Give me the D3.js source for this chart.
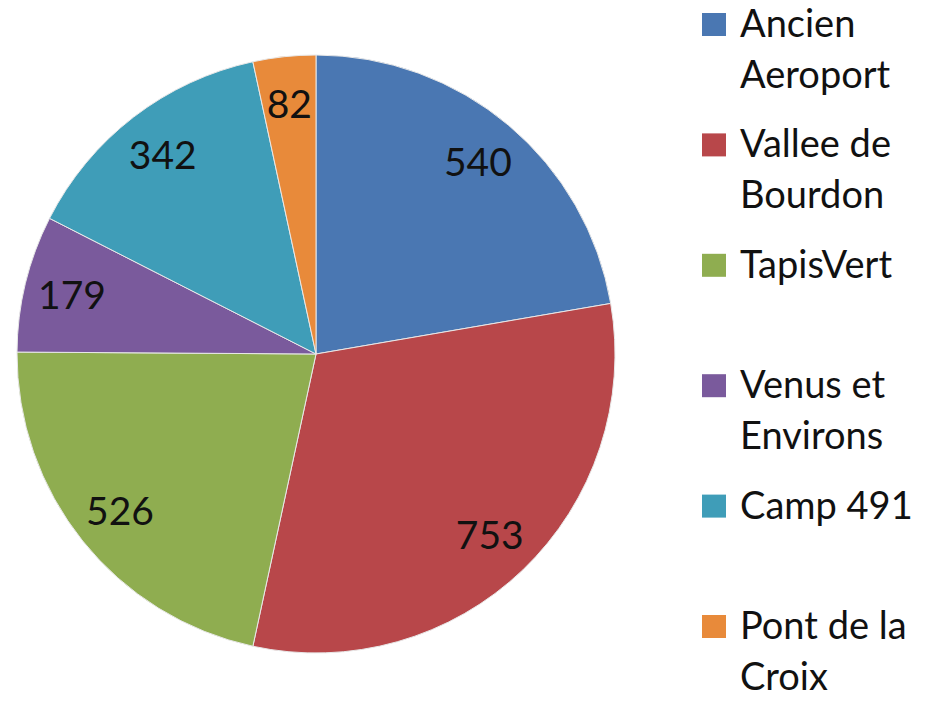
<!DOCTYPE html>
<html>
<head>
<meta charset="utf-8">
<script src="https://cdn.jsdelivr.net/npm/d3@7"></script>
<style>
  body { margin: 0; background: #fff; }
  svg { display: block; }
</style>
</head>
<body>
<svg id="chart" width="930" height="701"></svg>
<script>
// ---------- data ---------- //
var categories = ["Ancien Aeroport", "Vallee de Bourdon", "TapisVert", "Venus et Environs", "Camp 491", "Pont de la Croix"];
var values = [540, 753, 526, 179, 342, 82];
var colors = ["#4a77b2", "#b8474a", "#8fad50", "#7a5a9c", "#3f9db8", "#e88a3a"];

var width = 930, height = 701;
var cx = 316, cy = 354, radius = 299;
var fontFamily = "Lato, 'Open Sans', sans-serif";

var svg = d3.select("#chart");

var color = d3.scaleOrdinal().domain(categories).range(colors);

var pie = d3.pie().sort(null).value(function(d) { return d.value; });
var rows = categories.map(function(c, i) { return { name: c, value: values[i] }; });
var arcs = pie(rows);

var arc = d3.arc().innerRadius(0).outerRadius(radius);
var labelArc = d3.arc().innerRadius(radius * 0.84).outerRadius(radius * 0.84);

// --- slices --- //
var g = svg.append("g").attr("transform", "translate(" + cx + "," + cy + ")");

g.selectAll("path.slice")
    .data(arcs)
    .enter().append("path")
    .attr("class", "slice")
    .attr("d", arc)
    .attr("fill", function(d) { return color(d.data.name); })
    .attr("stroke", "#e8e8e8")
    .attr("stroke-width", 1);

// --- value labels --- //
g.selectAll("text.value")
    .data(arcs)
    .enter().append("text")
    .attr("class", "value")
    .attr("transform", function(d) { return "translate(" + labelArc.centroid(d) + ")"; })
    .attr("text-anchor", "middle")
    .attr("dy", "0.36em")
    .attr("font-size", "39px")
    .attr("font-family", fontFamily)
    .attr("fill", "#111")
    .text(function(d) { return d.data.value; });

// --- legend --- //
var legendY = d3.scalePoint().domain(categories).range([37, 639]);
var legendX = 740, maxWidth = 185, lineHeight = 51;

var legend = svg.append("g");

categories.forEach(function(name) {
    var y = legendY(name);
    legend.append("rect")
        .attr("x", 702)
        .attr("y", y - 24)
        .attr("width", 24)
        .attr("height", 23)
        .attr("fill", color(name));

    var text = legend.append("text")
        .attr("x", legendX)
        .attr("y", y)
        .attr("font-size", "38px")
        .attr("font-family", fontFamily)
        .attr("fill", "#111");

    // simple word wrap
    var words = name.split(" ");
    var line = [];
    var lineNo = 0;
    var tspan = text.append("tspan").attr("x", legendX).attr("y", y);
    words.forEach(function(w) {
        line.push(w);
        tspan.text(line.join(" "));
        if (tspan.node().getComputedTextLength() > maxWidth && line.length > 1) {
            line.pop();
            tspan.text(line.join(" "));
            line = [w];
            lineNo++;
            tspan = text.append("tspan")
                .attr("x", legendX)
                .attr("y", y + lineNo * lineHeight)
                .text(w);
        }
    });
});
</script>
</body>
</html>
